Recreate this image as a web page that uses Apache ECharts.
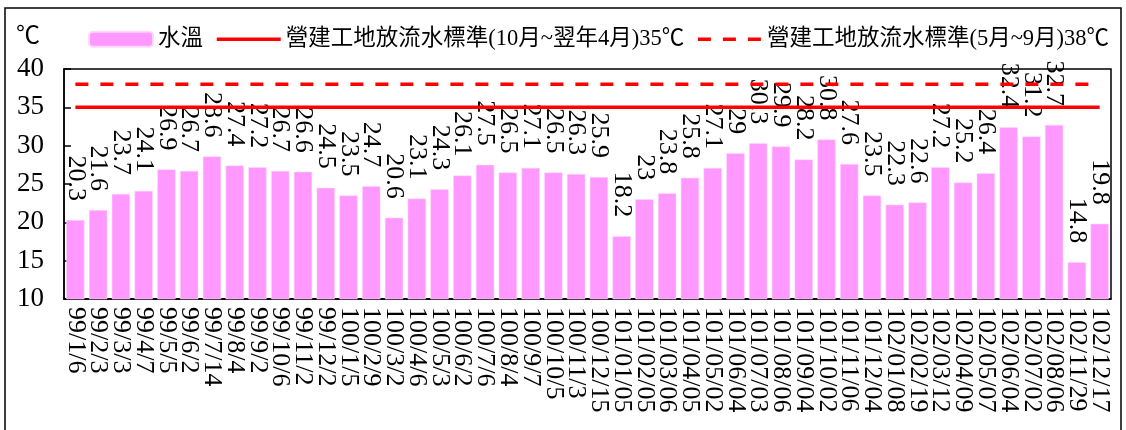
<!DOCTYPE html>
<html>
<head>
<meta charset="utf-8">
<script src="https://cdn.jsdelivr.net/npm/echarts@6/dist/echarts.min.js"></script>
<style>
html,body{margin:0;padding:0;background:#fff;}
#chart{width:1126px;height:430px;}
</style>
</head>
<body>
<div id="chart"></div>
<script>
const categories = ['99/1/6','99/2/3','99/3/3','99/4/7','99/5/5','99/6/2','99/7/14','99/8/4','99/9/2','99/10/6','99/11/2','99/12/2',
  '100/1/5','100/2/9','100/3/2','100/4/6','100/5/3','100/6/2','100/7/6','100/8/4','100/9/7','100/10/5','100/11/3','100/12/15',
  '101/01/05','101/02/05','101/03/06','101/04/05','101/05/02','101/06/04','101/07/03','101/08/06','101/09/04','101/10/02','101/11/06','101/12/04',
  '102/01/08','102/02/19','102/03/12','102/04/09','102/05/07','102/06/04','102/07/02','102/08/06','102/11/29','102/12/17'];
const waterTemp = [20.3,21.6,23.7,24.1,26.9,26.7,28.6,27.4,27.2,26.7,26.6,24.5,
  23.5,24.7,20.6,23.1,24.3,26.1,27.5,26.5,27.1,26.5,26.3,25.9,
  18.2,23,23.8,25.8,27.1,29,30.3,29.9,28.2,30.8,27.6,23.5,
  22.3,22.6,27.2,25.2,26.4,32.4,31.2,32.7,14.8,19.8];
const standardWinter = categories.map(() => 35);
const standardSummer = categories.map(() => 38);
const seriesNames = ['水溫','營建工地放流水標準(10月~翌年4月)35℃','營建工地放流水標準(5月~9月)38℃'];
const yTicks = {min: 10, max: 40, interval: 5};

const serif = "'Liberation Serif', 'Noto Sans CJK TC', serif";
const chart = echarts.init(document.getElementById('chart'));
chart.setOption({
  animation: false,
  textStyle: {fontFamily: serif},
  graphic: [{
    type: 'rect', silent: true, z: -10,
    shape: {x: 5, y: 8, width: 1116, height: 440},
    style: {fill: 'none', stroke: '#000', lineWidth: 1.5}
  }],
  legend: {
    left: 83, top: 23,
    itemWidth: 64, itemHeight: 15, itemGap: 12,
    textStyle: {fontSize: 22.5, color: '#000', fontFamily: serif},
    data: [
      {name: seriesNames[0]},
      {name: seriesNames[1], itemStyle: {opacity: 0}, lineStyle: {width: 3.5, color: '#FF0000'}},
      {name: seriesNames[2], itemStyle: {opacity: 0}, lineStyle: {width: 3.5, color: '#FF0000', type: [13, 12]}}
    ]
  },
  grid: {left: 64, right: 15, top: 69, bottom: 131, show: true, borderColor: '#000', borderWidth: 1.5, containLabel: false},
  xAxis: {
    type: 'category', data: categories,
    axisLine: {lineStyle: {color: '#000', width: 1.5}},
    axisTick: {show: false},
    axisLabel: {interval: 0, rotate: -90, margin: 8, fontSize: 26, color: '#000', fontFamily: serif}
  },
  yAxis: {
    type: 'value', min: yTicks.min, max: yTicks.max, interval: yTicks.interval,
    name: '℃', nameLocation: 'end', nameGap: 20,
    nameTextStyle: {fontSize: 24, color: '#000', fontFamily: serif, align: 'right', padding: [0, 24, 0, 0]},
    axisLine: {show: true, lineStyle: {color: '#000', width: 1.5}},
    axisTick: {show: true, inside: true, length: 7, lineStyle: {color: '#000', width: 1.5}},
    axisLabel: {fontSize: 27, color: '#000', margin: 20, fontFamily: serif},
    splitLine: {show: false}
  },
  series: [
    {
      name: seriesNames[0], type: 'bar', data: waterTemp, barWidth: '80%',
      itemStyle: {color: '#FF99FF', borderColor: '#FFD6FF', borderWidth: 0.5},
      label: {
        show: true, position: 'top', rotate: -90, align: 'right', verticalAlign: 'middle',
        distance: 19, fontSize: 26, color: '#000', fontFamily: serif
      }
    },
    {
      name: seriesNames[1], type: 'line', data: standardWinter, symbol: 'none', z: 5,
      lineStyle: {color: '#FF0000', width: 3.5}, itemStyle: {color: '#FF0000'}
    },
    {
      name: seriesNames[2], type: 'line', data: standardSummer, symbol: 'none', z: 5,
      lineStyle: {color: '#FF0000', width: 3.5, type: [13, 12]}, itemStyle: {color: '#FF0000'}
    }
  ]
});
</script>
</body>
</html>
